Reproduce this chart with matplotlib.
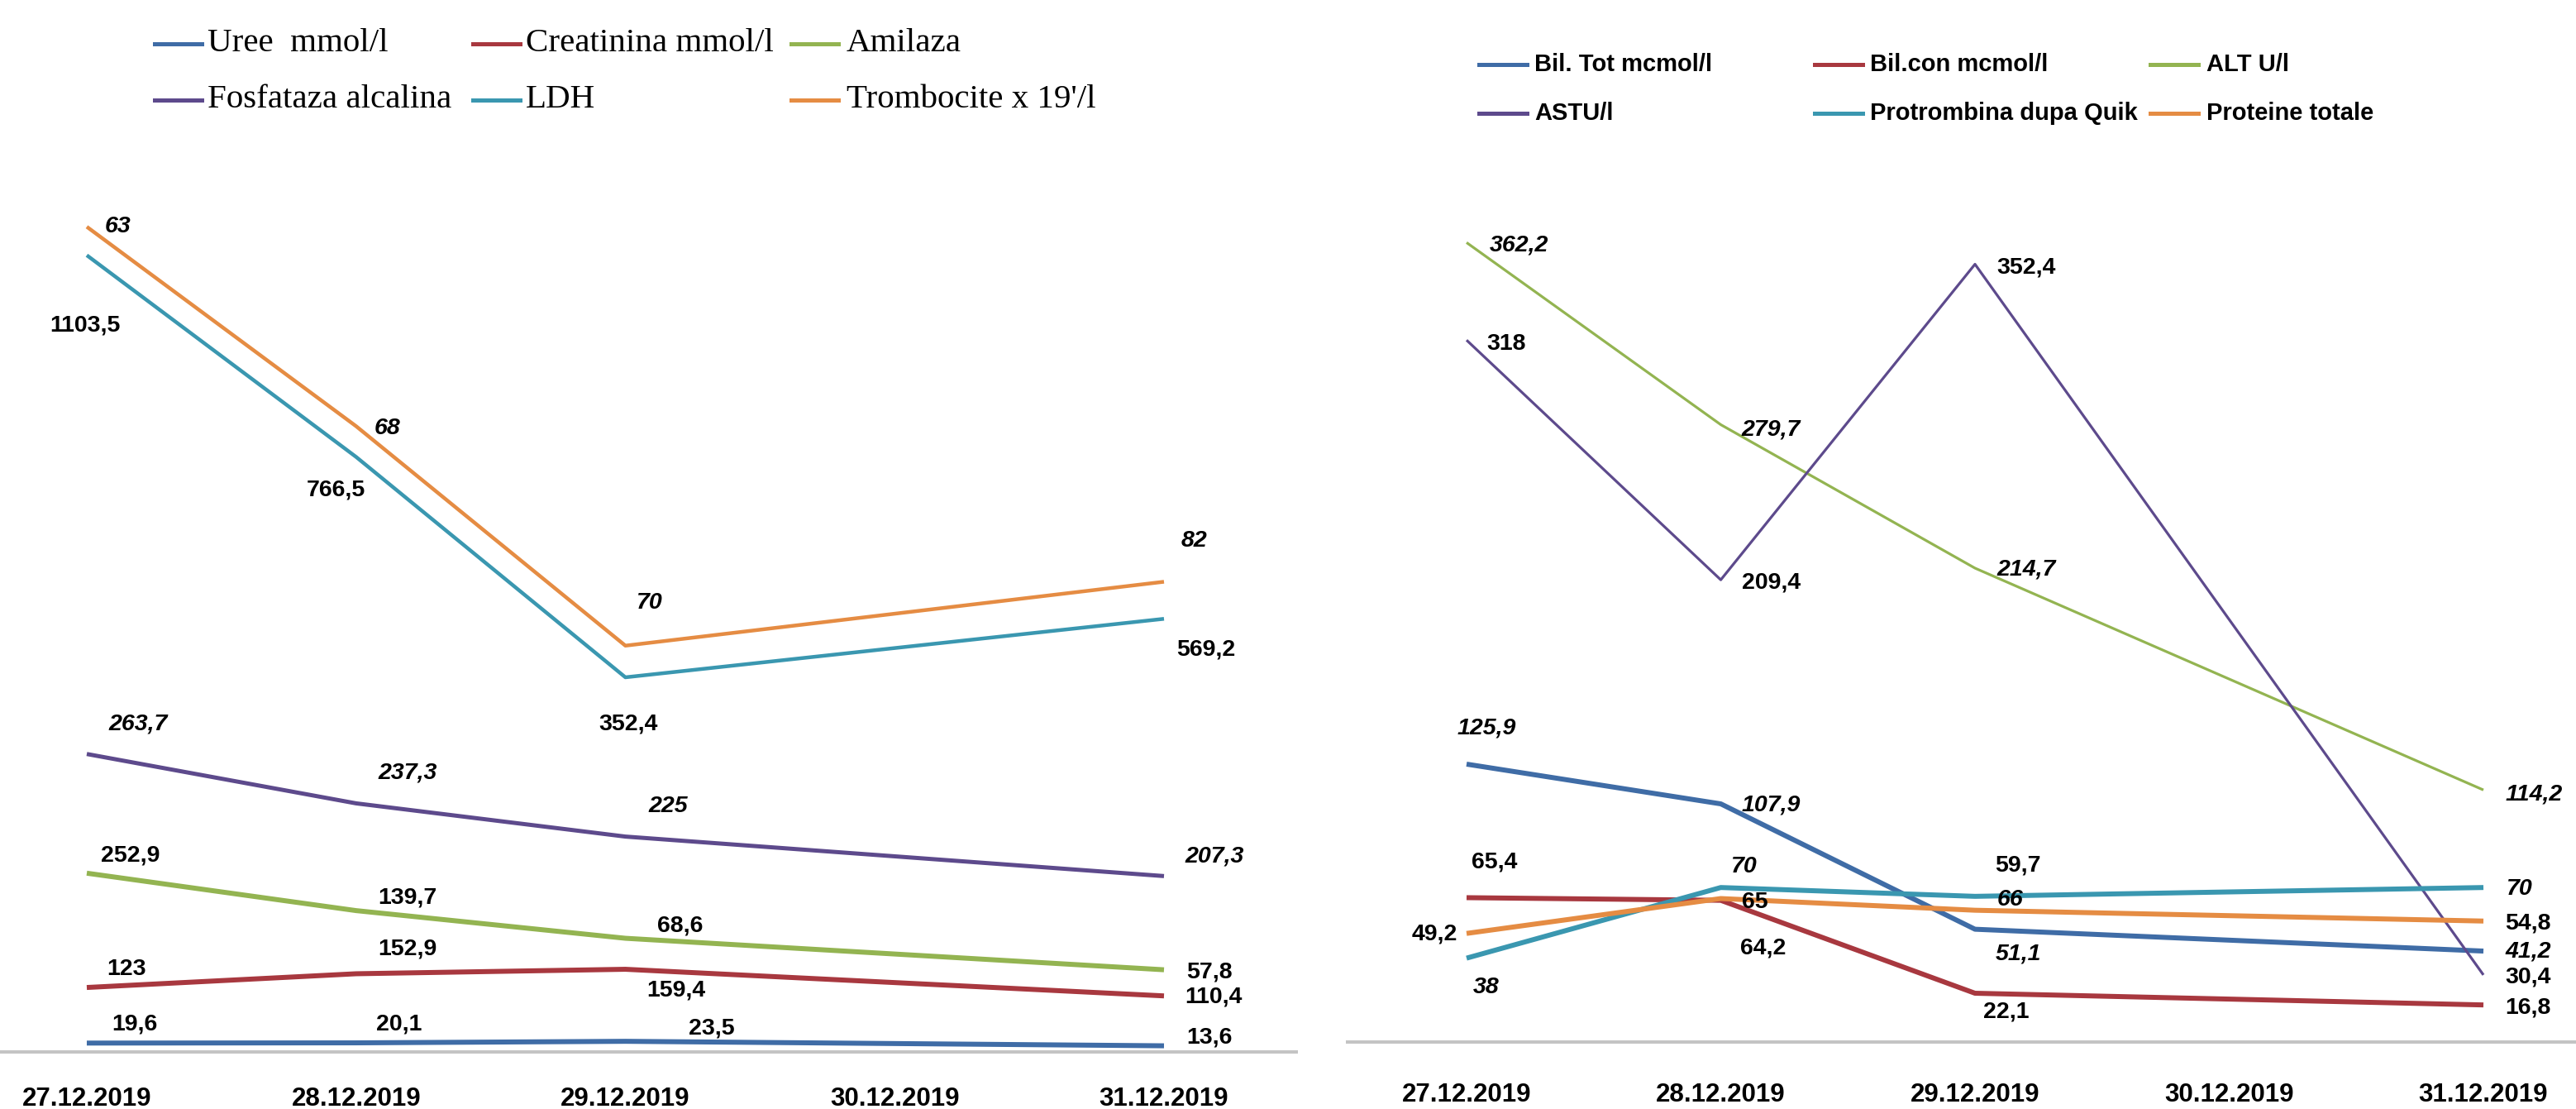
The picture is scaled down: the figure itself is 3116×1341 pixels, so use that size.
import matplotlib
matplotlib.use("Agg")
import matplotlib.pyplot as plt
from matplotlib.lines import Line2D

plt.rcParams['font.family'] = ['Liberation Sans', 'DejaVu Sans']

W, H = 3116, 1341  # figure size in pixels (dpi 100)
PX = 72 / 100       # points per pixel

dates = ['27.12.2019', '28.12.2019', '29.12.2019', '30.12.2019', '31.12.2019']
measured = ['27.12.2019', '28.12.2019', '29.12.2019', '31.12.2019']  # no sample on 30.12

# left chart: renal / pancreatic / blood markers (stacked lines)
uree = [19.6, 20.1, 23.5, 13.6]
creatinina = [123, 152.9, 159.4, 110.4]
amilaza = [252.9, 139.7, 68.6, 57.8]
fosfataza = [263.7, 237.3, 225, 207.3]
ldh = [1103.5, 766.5, 352.4, 569.2]
trombocite = [63, 68, 70, 82]

# right chart: liver markers
bil_tot = [125.9, 107.9, 51.1, 41.2]
bil_con = [65.4, 64.2, 22.1, 16.8]
alt = [362.2, 279.7, 214.7, 114.2]
ast = [318, 209.4, 352.4, 30.4]
protrombina = [38, 70, 66, 70]
proteine = [49.2, 65, 59.7, 54.8]

left_names = ['Uree  mmol/l', 'Creatinina mmol/l', 'Amilaza',
              'Fosfataza alcalina', 'LDH', "Trombocite x 19'/l"]
right_names = ['Bil. Tot mcmol/l', 'Bil.con mcmol/l', 'ALT U/l',
               'ASTU/l', 'Protrombina dupa Quik', 'Proteine totale']

BLUE, RED, GREEN = '#3f6ca6', '#a8383f', '#93b451'
PURPLE, AQUA, ORANGE = '#5d4a8c', '#3a97b0', '#e58c43'

# label offsets in pixels (dx right, dy down) for every point
left_offsets = [
    [(58, -23), (52, -23), (104, -16), (55, -10)],
    [(48, -22), (62, -30), (61, 25), (60, 1)],
    [(53, -21), (62, -16), (66, -15), (55, 3)],
    [(62, -36), (62, -37), (52, -37), (61, -24)],
    [(-2, 85), (-24, 40), (4, 57), (51, 37)],
    [(38, 0), (38, 3), (28, -52), (37, -49)],
]
right_offsets = [
    [(24, -43), (61, 1), (52, 30), (54, 0)],
    [(34, -43), (51, 58), (38, 22), (54, 3)],
    [(63, 3), (61, 6), (62, 2), (61, 5)],
    [(48, 5), (61, 3), (62, 4), (54, 3)],
    [(24, 35), (27, -25), (43, 4), (43, 2)],
    [(-39, 1), (41, 4), (52, -54), (54, 3)],
]


def fmt(v):
    return ('%g' % v).replace('.', ',')


def make_axes(left, right, bottom, top, xlim, ylim, pad):
    ax = fig.add_axes([left / W, 1 - bottom / H, (right - left) / W, (bottom - top) / H])
    ax.set_xlim(*xlim)
    ax.set_ylim(*ylim)
    for s in ['left', 'right', 'top']:
        ax.spines[s].set_visible(False)
    ax.spines['bottom'].set_color('#c4c4c4')
    ax.spines['bottom'].set_linewidth(4 * PX)
    ax.set_yticks([])
    ax.set_xticks(range(len(dates)))
    ax.set_xticklabels(dates, fontsize=22.5, fontweight='bold')
    ax.tick_params(axis='x', length=0, pad=pad)
    ax.patch.set_alpha(0)
    return ax


def draw_series(ax, xs, ys, labels, color, lw, offsets, italic):
    ax.plot(xs, ys, color=color, lw=lw * PX, solid_joinstyle='round',
            solid_capstyle='butt')
    for x, y, lab, (dx, dy) in zip(xs, ys, labels, offsets):
        ax.annotate(fmt(lab), (x, y), xytext=(dx * PX, -dy * PX),
                    textcoords='offset points', ha='center', va='center',
                    fontsize=20.5, fontweight='bold',
                    fontstyle='italic' if italic else 'normal',
                    annotation_clip=False)


def draw_legend(names, colors, rows_y, cols_x, family, size, weight, lw):
    # entries run left to right, three per row
    for i, (name, color) in enumerate(zip(names, colors)):
        r, c = divmod(i, 3)
        x0, x1, xt = cols_x[c]
        y = rows_y[r]
        fig.add_artist(Line2D([x0 / W, x1 / W], [1 - y / H, 1 - y / H],
                              color=color, lw=lw * PX, transform=fig.transFigure))
        fig.text(xt / W, 1 - y / H, name, ha='left', va='center',
                 family=family, fontsize=size, fontweight=weight)


fig = plt.figure(figsize=(W / 100, H / 100), dpi=100)
fig.patch.set_facecolor('white')

xs = [dates.index(d) for d in measured]

# ---- left: stacked line chart ----
ax1 = make_axes(0, 1568, 1272, 150, (-0.3223, 4.4912), (0, 2053), pad=30)
left_series = [uree, creatinina, amilaza, fosfataza, ldh, trombocite]
left_colors = [BLUE, RED, GREEN, PURPLE, AQUA, ORANGE]
left_italic = [False, False, False, True, False, True]
left_lw = [6, 6, 6, 5, 4.5, 4.5]
running = [0.0] * len(xs)
for vals, color, lw, offs, it in zip(left_series, left_colors, left_lw, left_offsets, left_italic):
    running = [a + b for a, b in zip(running, vals)]
    draw_series(ax1, xs, running, vals, color, lw, offs, it)

# ---- right: plain line chart ----
ax2 = make_axes(1630, 3116, 1260, 150, (-0.4683, 4.3642), (0, 415.9), pad=35)
right_series = [bil_tot, bil_con, alt, ast, protrombina, proteine]
right_colors = [BLUE, RED, GREEN, PURPLE, AQUA, ORANGE]
right_italic = [True, False, True, False, True, False]
right_lw = [6, 6, 3.2, 3.2, 6, 6]
for vals, color, lw, offs, it in zip(right_series, right_colors, right_lw, right_offsets, right_italic):
    draw_series(ax2, xs, vals, vals, color, lw, offs, it)

draw_legend(left_names, left_colors, [53, 121],
            [(187, 244, 251), (572, 629, 636), (957, 1014, 1024)],
            'Liberation Serif', 29.5, 'normal', 5)
draw_legend(right_names, right_colors, [78, 137],
            [(1789, 1847, 1856), (2195, 2253, 2262), (2601, 2659, 2669)],
            'Liberation Sans', 21, 'bold', 5)

fig.savefig('out.png', dpi=100)
